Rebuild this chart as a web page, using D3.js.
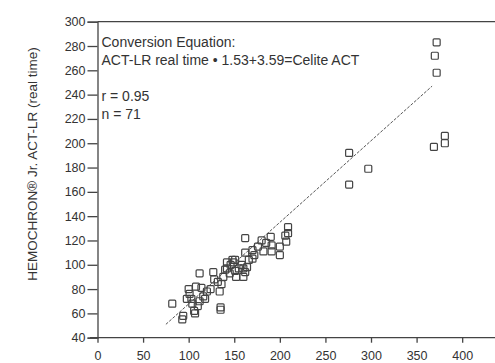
<!DOCTYPE html>
<html>
<head>
<meta charset="utf-8">
<script src="https://cdn.jsdelivr.net/npm/d3@7"></script>
<style>
  body { margin: 0; background: #fff; }
  text { font-family: "Liberation Sans", Arial, sans-serif; fill: #333; }
</style>
</head>
<body>
<div id="chart"></div>
<script>
// Celite ACT (x) vs HEMOCHRON Jr. ACT-LR real time (y)
let celite = [82, 93, 94, 98, 100, 101, 103, 104, 106, 107, 108, 110, 112, 112, 114, 116, 118, 120,
    124, 127, 128, 132, 134, 135, 135, 136, 138, 140, 142, 142, 145, 146, 148, 149, 151, 151, 152, 155,
    158, 160, 160, 162, 162, 162, 164, 166, 170, 170, 172, 176, 180, 182, 185, 190, 191, 191, 200, 200,
    206, 207, 209, 209, 276, 276, 297, 369, 381, 381, 372, 370, 372];
let actLR = [68, 55, 58, 72, 80, 76, 72, 68, 62, 60, 82, 66, 70, 93, 81, 74, 72, 78,
    80, 94, 88, 86, 78, 65, 63, 84, 90, 96, 102, 97, 93, 100, 104, 102, 95, 104, 90, 97,
    100, 90, 97, 94, 110, 122, 98, 104, 112, 105, 108, 115, 120, 111, 118, 123, 116, 111, 115, 108,
    124, 119, 126, 131, 192, 166, 179, 197, 206, 200, 283, 272, 258];
let fitX = [75, 367];
let fitY = [51, 247];
let xTicks = [0, 50, 100, 150, 200, 250, 300, 350, 400];
let yTicks = [40, 60, 80, 100, 120, 140, 160, 180, 200, 220, 240, 260, 280, 300];
let notes = ['Conversion Equation:', 'ACT-LR real time \u2022 1.53+3.59=Celite ACT', '', 'r = 0.95', 'n = 71'];

let width = 495, height = 363;
let svg = d3.select('#chart').append('svg')
    .attr('width', width)
    .attr('height', height);

let x = d3.scaleLinear().domain([0, 436]).range([97.5, 495]);
let y = d3.scaleLinear().domain([40, 300]).range([337.7, 21.7]);

// axes
let xAxis = svg.append('g')
    .attr('transform', 'translate(0,' + y(40) + ')')
    .call(d3.axisBottom(x).tickValues(xTicks).tickSize(5).tickPadding(8));
let yAxis = svg.append('g')
    .attr('transform', 'translate(' + x(0) + ',0)')
    .call(d3.axisLeft(y).tickValues(yTicks).tickSize(10).tickPadding(2));

[xAxis, yAxis].forEach(g => {
    g.select('.domain').attr('stroke', '#444').attr('stroke-width', 1.3);
    g.selectAll('.tick line').attr('stroke', '#444').attr('stroke-width', 1.3);
    g.selectAll('.tick text').style('font-size', '12.5px').attr('fill', '#333');
});
xAxis.select('.domain').attr('d', 'M90,0H495');

// top frame line
svg.append('line')
    .attr('x1', x(0)).attr('x2', width)
    .attr('y1', y(300)).attr('y2', y(300))
    .attr('stroke', '#444').attr('stroke-width', 1.3);

// fit line
svg.append('line')
    .attr('x1', x(fitX[0])).attr('y1', y(fitY[0]))
    .attr('x2', x(fitX[1])).attr('y2', y(fitY[1]))
    .attr('stroke', '#555').attr('stroke-width', 1)
    .attr('stroke-dasharray', '3,1.5');

// points
let pts = celite.map((c, i) => ({ c: c, a: actLR[i] }));
svg.append('g').selectAll('rect')
    .data(pts)
    .enter().append('rect')
    .attr('x', d => x(d.c) - 3.5)
    .attr('y', d => y(d.a) - 3.5)
    .attr('width', 7).attr('height', 7)
    .attr('rx', 1)
    .attr('fill', 'none')
    .attr('stroke', '#444')
    .attr('stroke-width', 1.2);

// annotation
svg.append('g').selectAll('text')
    .data(notes)
    .enter().append('text')
    .attr('x', 101.5)
    .attr('y', (d, i) => 47 + i * 18)
    .style('font-size', '14px')
    .text(d => d);

// y title
svg.append('text')
    .attr('transform', 'translate(37,' + 164 + ') rotate(-90)')
    .attr('text-anchor', 'middle')
    .style('font-size', '13.5px')
    .text('HEMOCHRON\u00AE Jr. ACT-LR (real time)');
</script>
</body>
</html>
